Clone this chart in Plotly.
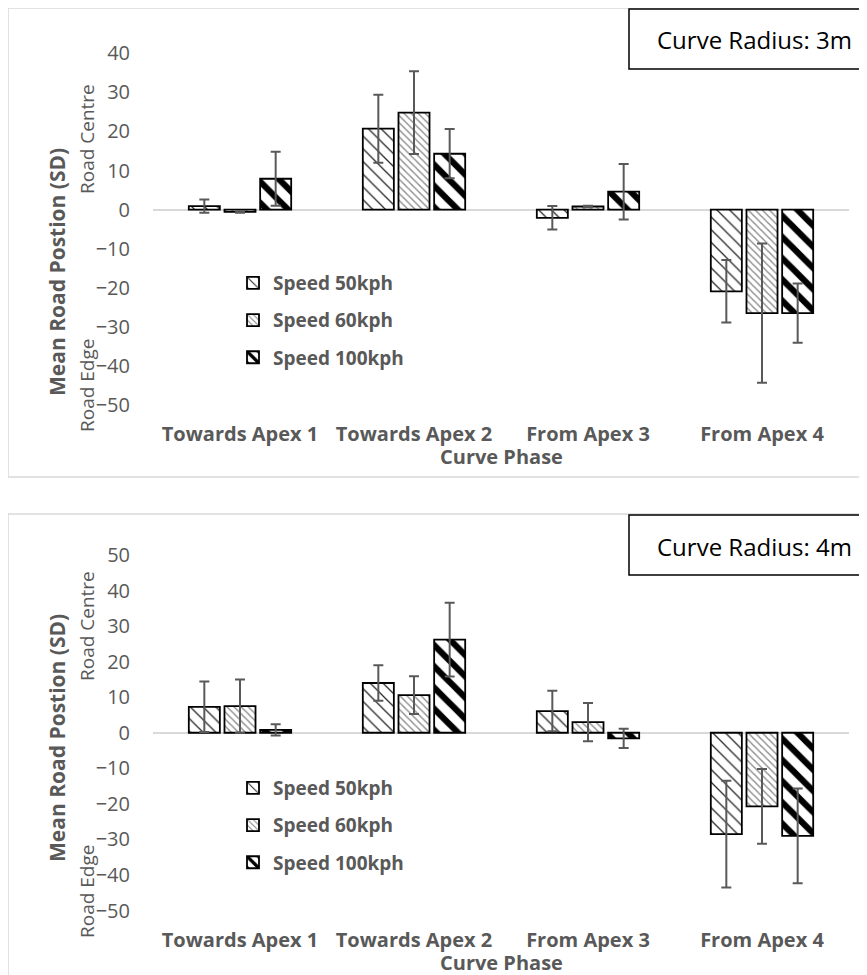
import plotly.graph_objects as go

W, H = 867, 975
OFF = 8  # page body offset in the rendered screenshot

categories = ["Towards Apex 1", "Towards Apex 2", "From Apex 3", "From Apex 4"]
series_names = ["Speed 50kph", "Speed 60kph", "Speed 100kph"]

# Curve radius 3m
r3_50 = [0.9, 20.7, -2.1, -20.9]
r3_50_sd = [1.7, 8.7, 3.0, 8.0]
r3_60 = [-0.6, 24.8, 0.8, -26.5]
r3_60_sd = [0.2, 10.6, 0.2, 17.8]
r3_100 = [7.9, 14.3, 4.6, -26.5]
r3_100_sd = [6.9, 6.3, 7.1, 7.6]

# Curve radius 4m
r4_50 = [7.3, 14.0, 6.1, -28.5]
r4_50_sd = [7.1, 5.0, 5.7, 15.0]
r4_60 = [7.5, 10.6, 3.0, -20.7]
r4_60_sd = [7.5, 5.3, 5.4, 10.5]
r4_100 = [0.8, 26.2, -1.6, -29.0]
r4_100_sd = [1.6, 10.4, 2.7, 13.3]

y_ticks_top = [40, 30, 20, 10, 0, -10, -20, -30, -40, -50]
y_ticks_bot = [50, 40, 30, 20, 10, 0, -10, -20, -30, -40, -50]

GREY = "#595959"
FONT = "Open Sans"

patterns = [
    dict(shape="\\", size=9, solidity=0.14, fgcolor="#000000", bgcolor="white", fgopacity=0.85),
    dict(shape="\\", size=5, solidity=0.28, fgcolor="#8c8c8c", bgcolor="white", fgopacity=1),
    dict(shape="\\", size=15, solidity=0.42, fgcolor="#000000", bgcolor="white", fgopacity=1),
]


def px_x(p):
    return (p - OFF) / W


def px_y(p):
    return 1 - (p - OFF) / H


fig = go.Figure()

datasets = [
    ("x", "y", "legend", [(r3_50, r3_50_sd), (r3_60, r3_60_sd), (r3_100, r3_100_sd)]),
    ("x2", "y2", "legend2", [(r4_50, r4_50_sd), (r4_60, r4_60_sd), (r4_100, r4_100_sd)]),
]

for xa, ya, lg, series in datasets:
    for i, (vals, sds) in enumerate(series):
        fig.add_trace(go.Bar(
            x=categories, y=vals, name=series_names[i],
            xaxis=xa, yaxis=ya, legend=lg, legendgroup=lg + str(i),
            marker=dict(color="white", pattern=patterns[i],
                        line=dict(color="black", width=1.8)),
            error_y=dict(type="data", array=sds, visible=True,
                         color=GREY, thickness=2, width=5),
        ))

xdom = [px_x(153), px_x(849)]
common_x = dict(showgrid=False, showline=False, zeroline=False, ticks="",
                tickfont=dict(family=FONT, size=20, color=GREY, weight="bold"),
                ticklabelstandoff=15, fixedrange=True, automargin=False)
common_y = dict(showgrid=False, showline=False, zeroline=True,
                zerolinecolor="#d9d9d9", zerolinewidth=2, ticks="",
                tickfont=dict(family=FONT, size=20, color=GREY),
                ticklabelstandoff=22, fixedrange=True, automargin=False)

fig.update_layout(
    width=W, height=H,
    margin=dict(l=0, r=0, t=0, b=0, autoexpand=False),
    paper_bgcolor="white", plot_bgcolor="white",
    barmode="group", bargap=0.385, bargroupgap=0.13,
    font=dict(family=FONT, color=GREY),
    xaxis=dict(domain=xdom, anchor="y", **common_x),
    yaxis=dict(domain=[px_y(405), px_y(53.3)], anchor="x", range=[-50, 40],
               tickvals=y_ticks_top, **common_y),
    xaxis2=dict(domain=xdom, anchor="y2", **common_x),
    yaxis2=dict(domain=[px_y(910.5), px_y(555)], anchor="x2", range=[-50, 50],
                tickvals=y_ticks_bot, **common_y),
    legend=dict(x=px_x(233), y=px_y(264), xanchor="left", yanchor="top",
                bgcolor="rgba(0,0,0,0)", tracegroupgap=9.5,
                font=dict(family=FONT, size=19, color=GREY, weight="bold")),
    legend2=dict(x=px_x(233), y=px_y(769), xanchor="left", yanchor="top",
                 bgcolor="rgba(0,0,0,0)", tracegroupgap=9.5,
                 font=dict(family=FONT, size=19, color=GREY, weight="bold")),
    showlegend=True,
)

shapes = []
annotations = []
for top, bottom, ttl_c, rc_c, re_c, cp_y, label in [
    (8, 477, 272, 139, 386, 456, "Curve Radius: 3m"),
    (514, 995, 738, 626, 892, 962, "Curve Radius: 4m"),
]:
    shapes.append(dict(type="rect", xref="paper", yref="paper",
                       x0=px_x(8), x1=px_x(861), y0=px_y(top), y1=px_y(bottom),
                       line=dict(color="#d9d9d9", width=1.5), layer="below"))
    shapes.append(dict(type="rect", xref="paper", yref="paper",
                       x0=px_x(629), x1=px_x(890), y0=px_y(top + 1), y1=px_y(top + 61),
                       line=dict(color="black", width=1.5), fillcolor="white"))
    annotations.append(dict(text=label, xref="paper", yref="paper",
                            x=px_x(754), y=px_y(top + 32), showarrow=False,
                            xanchor="center", yanchor="middle",
                            font=dict(family=FONT, size=24, color="black")))
    annotations.append(dict(text="<b>Mean Road Postion (SD)</b>", xref="paper", yref="paper",
                            x=px_x(57), y=px_y(ttl_c), showarrow=False, textangle=-90,
                            xanchor="center", yanchor="middle",
                            font=dict(family=FONT, size=21, color=GREY)))
    annotations.append(dict(text="Road Centre", xref="paper", yref="paper",
                            x=px_x(87), y=px_y(rc_c), showarrow=False, textangle=-90,
                            xanchor="center", yanchor="middle",
                            font=dict(family=FONT, size=19, color=GREY)))
    annotations.append(dict(text="Road Edge", xref="paper", yref="paper",
                            x=px_x(87), y=px_y(re_c), showarrow=False, textangle=-90,
                            xanchor="center", yanchor="middle",
                            font=dict(family=FONT, size=19, color=GREY)))
    annotations.append(dict(text="<b>Curve Phase</b>", xref="paper", yref="paper",
                            x=px_x(501), y=px_y(cp_y), showarrow=False,
                            xanchor="center", yanchor="middle",
                            font=dict(family=FONT, size=20, color=GREY)))

fig.update_layout(shapes=shapes, annotations=annotations)

fig.write_html("out.html")
